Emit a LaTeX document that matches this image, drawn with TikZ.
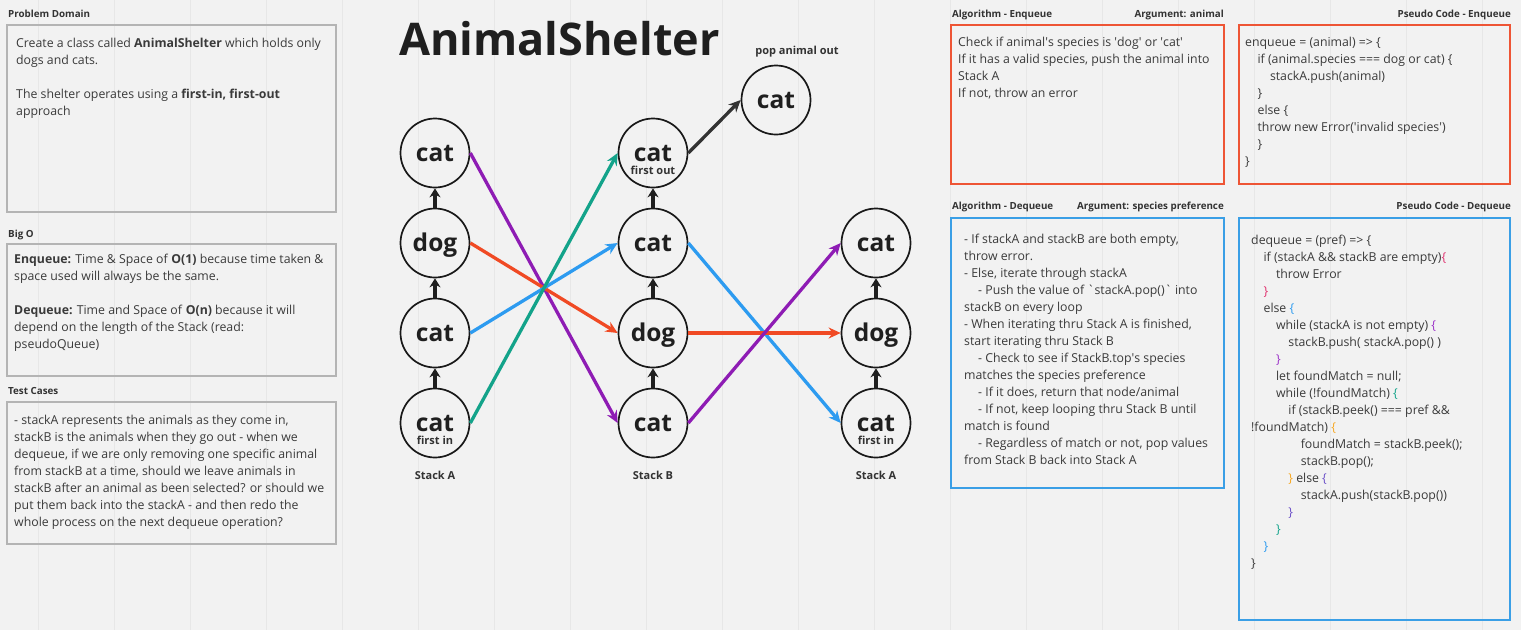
\documentclass[tikz,border=0pt]{standalone}
\usepackage{fontspec}
\setmainfont{Open Sans}
\usetikzlibrary{arrows.meta}

\definecolor{bgGrey}{HTML}{F2F2F2}
\definecolor{gridGrey}{HTML}{E7E7E7}
\definecolor{boxGrey}{HTML}{B4B4B4}
\definecolor{txtGrey}{HTML}{3A3A3A}
\definecolor{algRed}{HTML}{EE5535}
\definecolor{algBlue}{HTML}{3A9FE6}
\definecolor{arrRed}{HTML}{F04A24}
\definecolor{arrBlue}{HTML}{2D9BF0}
\definecolor{arrPurple}{HTML}{8E1CB4}
\definecolor{arrGreen}{HTML}{13A38A}
\definecolor{arrDark}{HTML}{333333}
\definecolor{bracePink}{HTML}{E0306E}
\definecolor{braceBlue}{HTML}{2D9BF0}
\definecolor{bracePurple}{HTML}{9B30C8}
\definecolor{braceGreen}{HTML}{12A38A}
\definecolor{braceOrange}{HTML}{F7A823}
\definecolor{braceViolet}{HTML}{6B4FC8}

\newcommand{\bodyfont}{\fontsize{12.3}{17}\selectfont}
\newlength{\codestep}
\setlength{\codestep}{12.4pt}
\newcommand{\tabin}[1]{\hspace*{#1\codestep}}

\begin{document}
\begin{tikzpicture}[x=1pt, y=-1pt,
    animal/.style={circle, draw=black!90, line width=1.7pt, minimum size=69pt, inner sep=0pt,
        text height=17pt, text depth=0pt, font=\fontsize{24.5}{25}\selectfont\bfseries, text=black!88},
    tag/.style={anchor=base, inner sep=0pt, font=\fontsize{11}{13}\selectfont\bfseries, text=black!80},
    heading/.style={inner sep=0pt, font=\fontsize{9.8}{11}\selectfont\bfseries, text=black!80},
    textblock/.style={anchor=north west, inner sep=0pt, align=left, font=\bodyfont, text=txtGrey,
        execute at begin node=\strut},
    greybox/.style={draw=boxGrey, line width=1.1pt},
    redbox/.style={draw=algRed, line width=2.2pt},
    bluebox/.style={draw=algBlue, line width=2.2pt},
    link/.style={line width=3.3pt, -{Stealth[length=12pt, width=11pt]}},
    push/.style={line width=3.2pt, black!88, -{Stealth[length=9pt, width=11pt]}}]
    \path[use as bounding box] (0,0) rectangle (1521,630);
    \fill[bgGrey] (0,0) rectangle (1521,630);
    \draw[gridGrey, line width=0.8pt, step=76, shift={(38,8)}] (-38,-8) grid (1483,622);

    % left column
    \node[heading, anchor=base west] (pdHead) at (8,17) {Problem Domain};
    \draw[greybox] (7,25) rectangle (336,212);
    \node[textblock] (pdText) at (16,38) {Create a class called \textbf{AnimalShelter} which holds only\\
        dogs and cats.\\[17pt]
        The shelter operates using a \textbf{first-in, first-out}\\
        approach};

    \node[heading, anchor=base west] (boHead) at (8,237) {Big O};
    \draw[greybox] (7,244) rectangle (336,376);
    \node[textblock] (boText) at (14,254) {\textbf{Enqueue:} Time \& Space of \textbf{O(1)} because time taken \&\\
        space used will always be the same.\\[17pt]
        \textbf{Dequeue:} Time and Space of \textbf{O(n)} because it will\\
        depend on the length of the Stack (read:\\
        pseudoQueue)};

    \node[heading, anchor=base west] (tcHead) at (8,394) {Test Cases};
    \draw[greybox] (7,402) rectangle (336,544);
    \node[textblock] (tcText) at (14,414.5) {- stackA represents the animals as they come in,\\
        stackB is the animals when they go out - when we\\
        dequeue, if we are only removing one specific animal\\
        from stackB at a time, should we leave animals in\\
        stackB after an animal as been selected? or should we\\
        put them back into the stackA - and then redo the\\
        whole process on the next dequeue operation?};

    % stacks
    \node[anchor=base west, inner sep=0pt, font=\fontsize{45}{45}\selectfont\bfseries, text=black!88] (title) at (399,55) {AnimalShelter};

    \node[animal] (a1) at (435,153) {cat};
    \node[animal] (a2) at (435,243) {dog};
    \node[animal] (a3) at (435,333) {cat};
    \node[animal] (a4) at (435,423) {cat};
    \node[animal] (b1) at (653,153) {cat};
    \node[animal] (b2) at (653,243) {cat};
    \node[animal] (b3) at (653,333) {dog};
    \node[animal] (b4) at (653,423) {cat};
    \node[animal] (c2) at (876,243) {cat};
    \node[animal] (c3) at (876,333) {dog};
    \node[animal] (c4) at (876,423) {cat};
    \node[animal] (pop) at (776,100) {cat};

    \node[tag] (a4tag) at (435,444) {first in};
    \node[tag] (b1tag) at (653,174) {first out};
    \node[tag] (c4tag) at (876,444) {first in};
    \node[tag] (popLabel) at (797,54) {pop animal out};
    \node[tag] (aLabel) at (435,479) {Stack A};
    \node[tag] (bLabel) at (653,479) {Stack B};
    \node[tag] (cLabel) at (876,479) {Stack A};

    \draw[push] (a2) -- (a1);
    \draw[push] (a3) -- (a2);
    \draw[push] (a4) -- (a3);
    \draw[push] (b2) -- (b1);
    \draw[push] (b3) -- (b2);
    \draw[push] (b4) -- (b3);
    \draw[push] (c3) -- (c2);
    \draw[push] (c4) -- (c3);

    \draw[link, arrPurple] (a1.east) -- (b4.west);
    \draw[link, arrRed] (a2.east) -- (b3.west);
    \draw[link, arrBlue] (a3.east) -- (b2.west);
    \draw[link, arrGreen] (a4.east) -- (b1.west);
    \draw[link, arrDark] (b1.east) -- (pop.west);
    \draw[link, arrBlue] (b2.east) -- (c4.west);
    \draw[link, arrRed] (b3.east) -- (c3.west);
    \draw[link, arrPurple] (b4.east) -- (c2.west);

    % enqueue
    \node[heading, anchor=base west] (enqHead) at (952,17) {Algorithm - Enqueue};
    \node[heading, anchor=base east] (enqArg) at (1224,17) {Argument: animal};
    \node[heading, anchor=base east] (enqCodeHead) at (1511,17) {Pseudo Code - Enqueue};
    \draw[redbox] (951,25) rectangle (1224,184);
    \draw[redbox] (1239,25) rectangle (1510,184);
    \node[textblock] (enqText) at (958,37) {Check if animal\textquotesingle s species is \textquotesingle dog\textquotesingle{} or \textquotesingle cat\textquotesingle\\
        If it has a valid species, push the animal into\\
        Stack A\\
        If not, throw an error};
    \node[textblock] (enqCode) at (1245,37) {enqueue = (animal) => \{\\
        \tabin{1}if (animal.species === dog or cat) \{\\
        \tabin{2}stackA.push(animal)\\
        \tabin{1}\}\\
        \tabin{1}else \{\\
        \tabin{1}throw new Error(\textquotesingle invalid species\textquotesingle)\\
        \tabin{1}\}\\
        \}};

    % dequeue
    \node[heading, anchor=base west] (deqHead) at (952,209) {Algorithm - Dequeue};
    \node[heading, anchor=base east] (deqArg) at (1224,209) {Argument: species preference};
    \node[heading, anchor=base east] (deqCodeHead) at (1511,209) {Pseudo Code - Dequeue};
    \draw[bluebox] (951,218) rectangle (1224,488);
    \draw[bluebox] (1239,218) rectangle (1510,620);
    \node[textblock] (deqText) at (964,234) {- If stackA and stackB are both empty,\\
        throw error.\\
        - Else, iterate through stackA\\
        \hspace*{14pt}- Push the value of \textasciigrave stackA.pop()\textasciigrave{} into\\
        stackB on every loop\\
        - When iterating thru Stack A is finished,\\
        start iterating thru Stack B\\
        \hspace*{14pt}- Check to see if StackB.top\textquotesingle s species\\
        matches the species preference\\
        \hspace*{14pt}- If it does, return that node/animal\\
        \hspace*{14pt}- If not, keep looping thru Stack B until\\
        match is found\\
        \hspace*{14pt}- Regardless of match or not, pop values\\
        from Stack B back into Stack A};
    \node[textblock] (deqCode) at (1251,234.5) {dequeue = (pref) => \{\\
        \tabin{1}if (stackA \&\& stackB are empty)\textcolor{bracePink}{\{}\\
        \tabin{2}throw Error\\
        \tabin{1}\textcolor{bracePink}{\}}\\
        \tabin{1}else \textcolor{braceBlue}{\{}\\
        \tabin{2}while (stackA is not empty) \textcolor{bracePurple}{\{}\\
        \tabin{3}stackB.push( stackA.pop() )\\
        \tabin{2}\textcolor{bracePurple}{\}}\\
        \tabin{2}let foundMatch = null;\\
        \tabin{2}while (!foundMatch) \textcolor{braceGreen}{\{}\\
        \tabin{3}if (stackB.peek() === pref \&\&\\
        !foundMatch) \textcolor{braceOrange}{\{}\\
        \tabin{4}foundMatch = stackB.peek();\\
        \tabin{4}stackB.pop();\\
        \tabin{3}\textcolor{braceOrange}{\}} else \textcolor{braceViolet}{\{}\\
        \tabin{4}stackA.push(stackB.pop())\\
        \tabin{3}\textcolor{braceViolet}{\}}\\
        \tabin{2}\textcolor{braceGreen}{\}}\\
        \tabin{1}\textcolor{braceBlue}{\}}\\
        \}};
\end{tikzpicture}
\end{document}
